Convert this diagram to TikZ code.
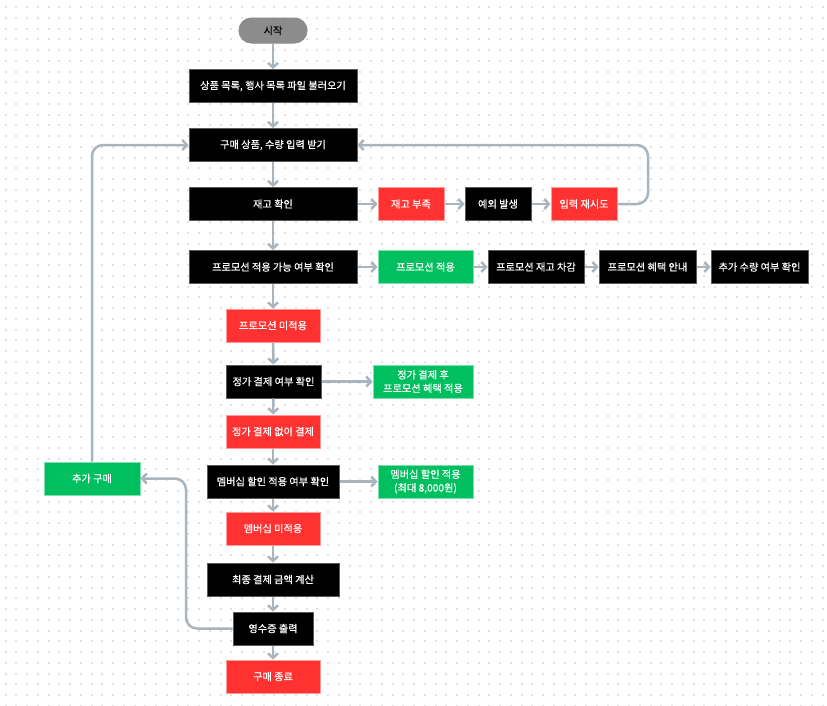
\documentclass[tikz,border=0pt]{standalone}
\usepackage{fontspec}
\setmainfont{Noto Sans CJK KR}
\newfontfamily\lbl[FakeBold=0.6]{Noto Sans CJK KR}
\usetikzlibrary{arrows.meta}
\definecolor{lineC}{HTML}{A9B4BD}
\definecolor{redC}{HTML}{FF3131}
\definecolor{redB}{HTML}{FF9A9A}
\definecolor{grnC}{HTML}{00BF5F}
\definecolor{grnB}{HTML}{7FDFAF}
\definecolor{blkB}{HTML}{5A5A5A}
\definecolor{dotC}{HTML}{E2E2E2}
\definecolor{startC}{HTML}{8C8C8C}
\tikzset{
  box/.style={minimum height=33pt, inner sep=0pt, text=white, line width=1pt, align=center, font=\lbl\fontsize{10.2}{13.5}\selectfont},
  blk/.style={box, fill=black, draw=blkB},
  redbox/.style={box, fill=redC, draw=redB},
  grnbox/.style={box, fill=grnC, draw=grnB},
  startbox/.style={box, fill=startC, draw=startC, text=black, rounded corners=12.5pt, minimum height=25pt},
  arr/.style={draw=lineC, line width=2.5pt, -{Straight Barb[length=4.5pt,width=10pt,line width=2.5pt]}},
  loopline/.style={arr, rounded corners=11pt},
}
\begin{document}
\begin{tikzpicture}[x=1pt,y=-1pt]
\useasboundingbox (0,0) rectangle (827,705);
\fill[white] (0,0) rectangle (827,705);
\foreach \i in {0,...,76}{
  \foreach \j in {0,...,65}{
    \fill[dotC] ({5.6+10.75*\i-1},{7.2+10.75*\j-1}) rectangle ++(2,2);
  }
}
% main column
\node[startbox, minimum width=68pt] (start) at (273,30.5) {시작};
\node[blk, minimum width=168pt] (load) at (273,86) {상품 목록, 행사 목록 파일 불러오기};
\node[blk, minimum width=168pt] (buy) at (273,145) {구매 상품, 수량 입력 받기};
\node[blk, minimum width=168pt] (stock) at (273,204) {재고 확인};
\node[redbox, minimum width=66pt] (short) at (411,204) {재고 부족};
\node[blk, minimum width=66pt] (exc) at (498,204) {예외 발생};
\node[redbox, minimum width=66pt] (retry) at (584,204) {입력 재시도};
\node[blk, minimum width=168pt] (promo) at (273,267) {프로모션 적용 가능 여부 확인};
\node[grnbox, minimum width=95pt] (papply) at (425.5,267) {프로모션 적용};
\node[blk, minimum width=96pt] (pdec) at (536,267) {프로모션 재고 차감};
\node[blk, minimum width=97pt] (pinfo) at (647.5,267) {프로모션 혜택 안내};
\node[blk, minimum width=97pt] (pmore) at (759.5,267) {추가 수량 여부 확인};
\node[redbox, minimum width=94pt] (nopromo) at (273,325.5) {프로모션 미적용};
\node[blk, minimum width=95pt] (regular) at (273.5,381.5) {정가 결제 여부 확인};
\node[grnbox, minimum width=100pt] (regapply) at (423,381.5) {정가 결제 후\\프로모션 혜택 적용};
\node[redbox, minimum width=94pt] (nopay) at (273,431.5) {정가 결제 없이 결제};
\node[blk, minimum width=132pt] (member) at (273,481.5) {멤버십 할인 적용 여부 확인};
\node[grnbox, minimum width=95pt] (mapply) at (425.5,481.5) {멤버십 할인 적용\\(최대 8,000원)};
\node[grnbox, minimum width=96pt] (more) at (92,478.5) {추가 구매};
\node[redbox, minimum width=94pt] (nomember) at (273,528.5) {멤버십 미적용};
\node[blk, minimum width=132pt] (final) at (273,579.5) {최종 결제 금액 계산};
\node[blk, minimum width=80pt] (receipt) at (273,628.5) {영수증 출력};
\node[redbox, minimum width=94pt] (end) at (273,676.5) {구매 종료};
\coordinate (cR) at (648,175);
\coordinate (cB) at (186,550);
% vertical
\draw[arr] (start) -- (load);
\draw[arr] (load) -- (buy);
\draw[arr] (buy) -- (stock);
\draw[arr] (stock) -- (promo);
\draw[arr] (promo) -- (nopromo);
\draw[arr] (nopromo) -- (regular);
\draw[arr] (regular) -- (nopay);
\draw[arr] (nopay) -- (member);
\draw[arr] (member) -- (nomember);
\draw[arr] (nomember) -- (final);
\draw[arr] (final) -- (receipt);
\draw[arr] (receipt) -- (end);
% horizontal
\draw[arr] (stock) -- (short);
\draw[arr] (short) -- (exc);
\draw[arr] (exc) -- (retry);
\draw[arr] (promo) -- (papply);
\draw[arr] (papply) -- (pdec);
\draw[arr] (pdec) -- (pinfo);
\draw[arr] (pinfo) -- (pmore);
\draw[arr] (regular) -- (regapply);
\draw[arr] (member) -- (mapply);
% loops
\draw[loopline] (retry.east) -| (cR) |- (buy.east);
\draw[loopline] (more.north) |- (buy.west);
\draw[loopline] (receipt.west) -| (cB) |- (more.east);
\end{tikzpicture}
\end{document}
